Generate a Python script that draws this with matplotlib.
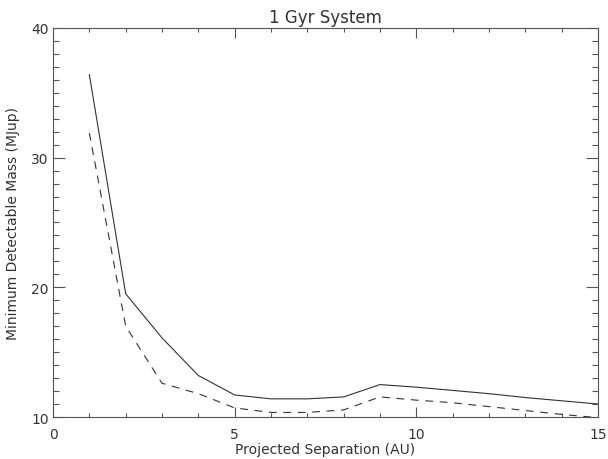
import matplotlib.pyplot as plt
from matplotlib.ticker import MultipleLocator

# separation (AU) and minimum detectable mass (MJup)
sep = [1, 2, 3, 4, 5, 6, 7, 8, 9, 10, 11, 12, 13, 14, 15]
mass_solid = [36.4, 19.5, 16.1, 13.2, 11.7, 11.4, 11.4, 11.55, 12.5,
              12.3, 12.05, 11.8, 11.5, 11.25, 11.0]
mass_dashed = [31.9, 17.0, 12.6, 11.8, 10.7, 10.35, 10.35, 10.55, 11.55,
               11.3, 11.1, 10.8, 10.5, 10.2, 9.95]

fig = plt.figure(figsize=(6.08, 4.6), dpi=100)
ax = fig.add_axes([0.0872, 0.0913, 0.8964, 0.8457])

ink = '#333333'
ax.plot(sep, mass_solid, color=ink, lw=0.8)
ax.plot(sep, mass_dashed, color=ink, lw=0.8, dashes=(7, 6))

ax.set_xlim(0, 15)
ax.set_ylim(10, 40)
ax.xaxis.set_major_locator(MultipleLocator(5))
ax.xaxis.set_minor_locator(MultipleLocator(1))
ax.yaxis.set_major_locator(MultipleLocator(10))
ax.yaxis.set_minor_locator(MultipleLocator(1))

ax.tick_params(axis='both', which='both', direction='in', top=True, right=True,
               color='#555555', width=0.8, labelsize=10, labelcolor=ink)
ax.tick_params(axis='x', which='major', length=7, pad=7)
ax.tick_params(axis='x', which='minor', length=3)
ax.tick_params(axis='y', which='major', length=8.5, pad=3)
ax.tick_params(axis='y', which='minor', length=4.5)

for s in ax.spines.values():
    s.set_color('#555555')
    s.set_linewidth(0.8)

ax.set_title('1 Gyr System', fontsize=12, color=ink, pad=4)
ax.set_xlabel('Projected Separation (AU)', fontsize=10, color=ink, labelpad=1)
ax.set_ylabel('Minimum Detectable Mass (MJup)', fontsize=10, color=ink, labelpad=8)

fig.savefig('out.png', dpi=100)
